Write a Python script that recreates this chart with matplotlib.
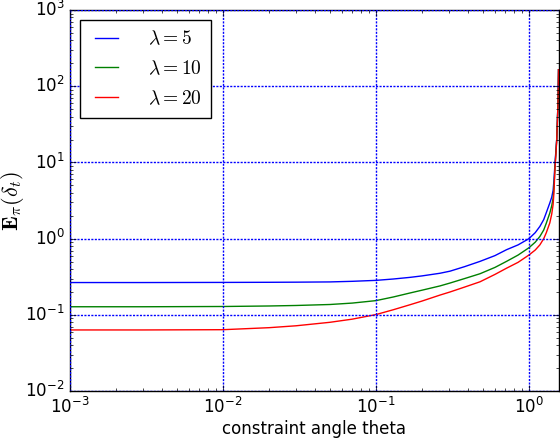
import numpy as np
import matplotlib
matplotlib.use('Agg')
import matplotlib.pyplot as plt

plt.style.use('classic')

# constraint angle (rad) and expected values
theta = [0.001, 0.003, 0.01, 0.02, 0.03, 0.05, 0.07, 0.1, 0.13, 0.167,
         0.2, 0.262, 0.305, 0.38, 0.479, 0.6, 0.714, 0.85, 1.0, 1.1,
         1.18, 1.25, 1.3, 1.37, 1.41, 1.44, 1.46, 1.48, 1.52, 1.55, 1.562]
e_lam5 = [0.266, 0.266, 0.267, 0.268, 0.269, 0.271, 0.276, 0.284, 0.296, 0.311,
          0.325, 0.352, 0.375, 0.43, 0.504, 0.60, 0.717, 0.83, 1.0, 1.2,
          1.45, 1.78, 2.2, 2.94, 3.5, 4.3, 6.0, 9.5, 20, 60, 165]
e_lam10 = [0.128, 0.128, 0.129, 0.131, 0.133, 0.137, 0.143, 0.154, 0.172, 0.194,
           0.211, 0.240, 0.262, 0.30, 0.347, 0.42, 0.504, 0.61, 0.76, 0.9,
           1.07, 1.3, 1.6, 2.17, 2.7, 3.4, 5.0, 8.5, 20, 60, 165]
e_lam20 = [0.0635, 0.0635, 0.064, 0.068, 0.072, 0.080, 0.088, 0.101, 0.117, 0.136,
           0.152, 0.182, 0.200, 0.232, 0.272, 0.34, 0.41, 0.49, 0.61, 0.71,
           0.83, 1.0, 1.2, 1.61, 2.1, 2.8, 4.2, 8.0, 19, 58, 165]
labels = [r'$\lambda=5$', r'$\lambda=10$', r'$\lambda=20$']

fig = plt.figure(figsize=(5.6, 4.38), dpi=100, facecolor='white')
ax = fig.add_axes([0.125, 0.107, 0.873, 0.870])

ax.plot(theta, e_lam5, 'b-', label=labels[0])
ax.plot(theta, e_lam10, 'g-', label=labels[1])
ax.plot(theta, e_lam20, 'r-', label=labels[2])

ax.set_xscale('log')
ax.set_yscale('log')
ax.set_xlim(1e-3, np.pi / 2)
ax.set_ylim(1e-2, 1e3)
ax.grid(True, which='major', color='b', linestyle=(0, (1.5, 1.0)), linewidth=1)
ax.tick_params(labelsize=12)

ax.set_xlabel('constraint angle theta', fontsize=12)
ax.set_ylabel(r'$\mathbf{E}_\pi(\delta_t)$', fontsize=16)
ax.xaxis.set_label_coords(0.5, -0.076)
ax.yaxis.set_label_coords(-0.09, 0.5)
ax.legend(loc='upper left', fontsize=14, labelspacing=0.55, handlelength=1.75,
          handletextpad=1.25, borderpad=0.5)

fig.savefig('out.png', dpi=100, facecolor='white')
